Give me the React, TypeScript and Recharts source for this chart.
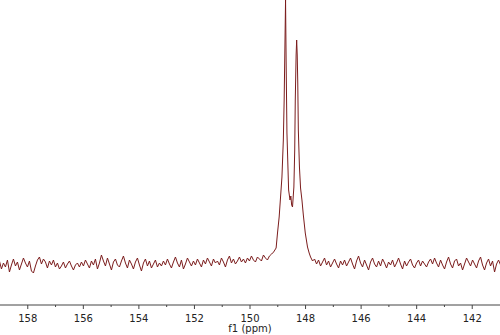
import { LineChart, Line, XAxis, YAxis } from "recharts";

// baseline noise left of the peaks, sampled from 159.02 ppm downward
const leftStart = 159.02;
const leftStep = 0.072;
const leftNoise = [
  44, 36, 42, 38, 45, 33, 40, 46, 39, 43, 35, 41, 47, 42, 38, 44, 34, 32, 39, 45,
  48, 41, 46, 43, 37, 44, 40, 45, 38, 42, 36, 39, 43, 37, 41, 44, 39, 35, 40, 42,
  38, 43, 39, 45, 41, 37, 44, 40, 46, 36, 42, 50, 44, 39, 47, 41, 35, 43, 46, 40,
  38, 44, 49, 42, 37, 45, 41, 36, 43, 47, 40, 34, 42, 46, 39, 44, 37, 41, 45, 38,
  42, 39, 44, 40, 46, 41, 37, 43, 48, 42, 38, 45, 36, 41, 47, 43, 39, 44, 40, 46,
  42, 38, 45, 41, 47, 43, 39, 46, 42, 44, 40, 47, 43, 38, 45, 49, 42, 46, 41, 44,
  48, 43, 46, 42, 47, 44, 49, 45, 43, 48, 46, 44, 50, 47, 45, 49,
];

// the doublet around 148.7 / 148.3 ppm
const peakPpm = [
  149.22, 149.15, 149.06, 149.01, 148.95, 148.85, 148.8, 148.77, 148.74, 148.72,
  148.7, 148.67, 148.61, 148.56, 148.53, 148.5, 148.47, 148.42, 148.39, 148.37,
  148.34, 148.32, 148.3, 148.28, 148.26, 148.22, 148.18, 148.13, 148.08, 148.01,
  147.93, 147.87,
];
const peakValues = [
  51, 53, 57, 72, 88, 128, 165, 205, 265, 305,
  245, 172, 115, 105, 109, 100, 98, 118, 155, 205,
  250, 265, 250, 222, 175, 138, 117, 105, 90, 72,
  58, 52,
];

// baseline noise right of the peaks
const rightStart = 147.82;
const rightStep = 0.072;
const rightNoise = [
  48, 44, 46, 41, 45, 39, 43, 47, 40, 44, 38, 42, 46, 41, 37, 44, 40, 45, 39, 43,
  47, 41, 36, 44, 49, 42, 38, 45, 40, 35, 43, 47, 41, 38, 44, 39, 46, 42, 37, 43,
  40, 45, 38, 42, 47, 41, 36, 44, 39, 43, 46, 40, 37, 42, 45, 39, 44, 41, 38, 43,
  46, 41, 47, 42, 38, 45, 40, 36, 43, 48, 41, 37, 44, 46, 39, 42, 35, 41, 47, 43,
  39, 45, 41, 37, 44, 48, 40, 35, 42, 46, 39, 44, 33, 41, 45, 40,
];

const tickValues = [142, 143, 144, 145, 146, 147, 148, 149, 150, 151, 152, 153, 154, 155, 156, 157, 158];

const data = [
  ...leftNoise.map((v, i) => ({ ppm: +(leftStart - i * leftStep).toFixed(3), v })),
  ...peakPpm.map((p, i) => ({ ppm: p, v: peakValues[i] })),
  ...rightNoise.map((v, i) => ({ ppm: +(rightStart - i * rightStep).toFixed(3), v })),
];

function PpmTick(props: any) {
  const { x, y, payload } = props;
  const major = payload.value % 2 === 0;
  return (
    <g>
      <line x1={x} y1={y} x2={x} y2={y + (major ? 4 : 2)} stroke="#444" strokeWidth={1} />
      {major && (
        <text
          x={x}
          y={y + 17}
          textAnchor="middle"
          fill="#222"
          fontSize={10}
          fontFamily="DejaVu Sans, Verdana, sans-serif"
        >
          {payload.value}
        </text>
      )}
    </g>
  );
}

export default function App() {
  return (
    <div style={{ position: "absolute", left: 0, top: 0, background: "#fff" }}>
      <LineChart
        width={500}
        height={335}
        data={data}
        margin={{ top: 0, right: 0, left: 0, bottom: 0 }}
      >
        <XAxis
          dataKey="ppm"
          type="number"
          domain={[141, 159]}
          reversed
          allowDataOverflow
          ticks={tickValues}
          interval={0}
          height={30}
          tickSize={0}
          tickMargin={0}
          tick={<PpmTick />}
          axisLine={{ stroke: "#444" }}
          label={{
            value: "f1 (ppm)",
            position: "insideBottom",
            offset: 3,
            fill: "#222",
            fontSize: 10,
            fontFamily: "DejaVu Sans, Verdana, sans-serif",
          }}
        />
        <YAxis hide domain={[0, 305]} allowDataOverflow />
        <Line
          type="linear"
          dataKey="v"
          stroke="#7b1c1c"
          strokeWidth={1}
          dot={false}
          isAnimationActive={false}
        />
      </LineChart>
    </div>
  );
}
